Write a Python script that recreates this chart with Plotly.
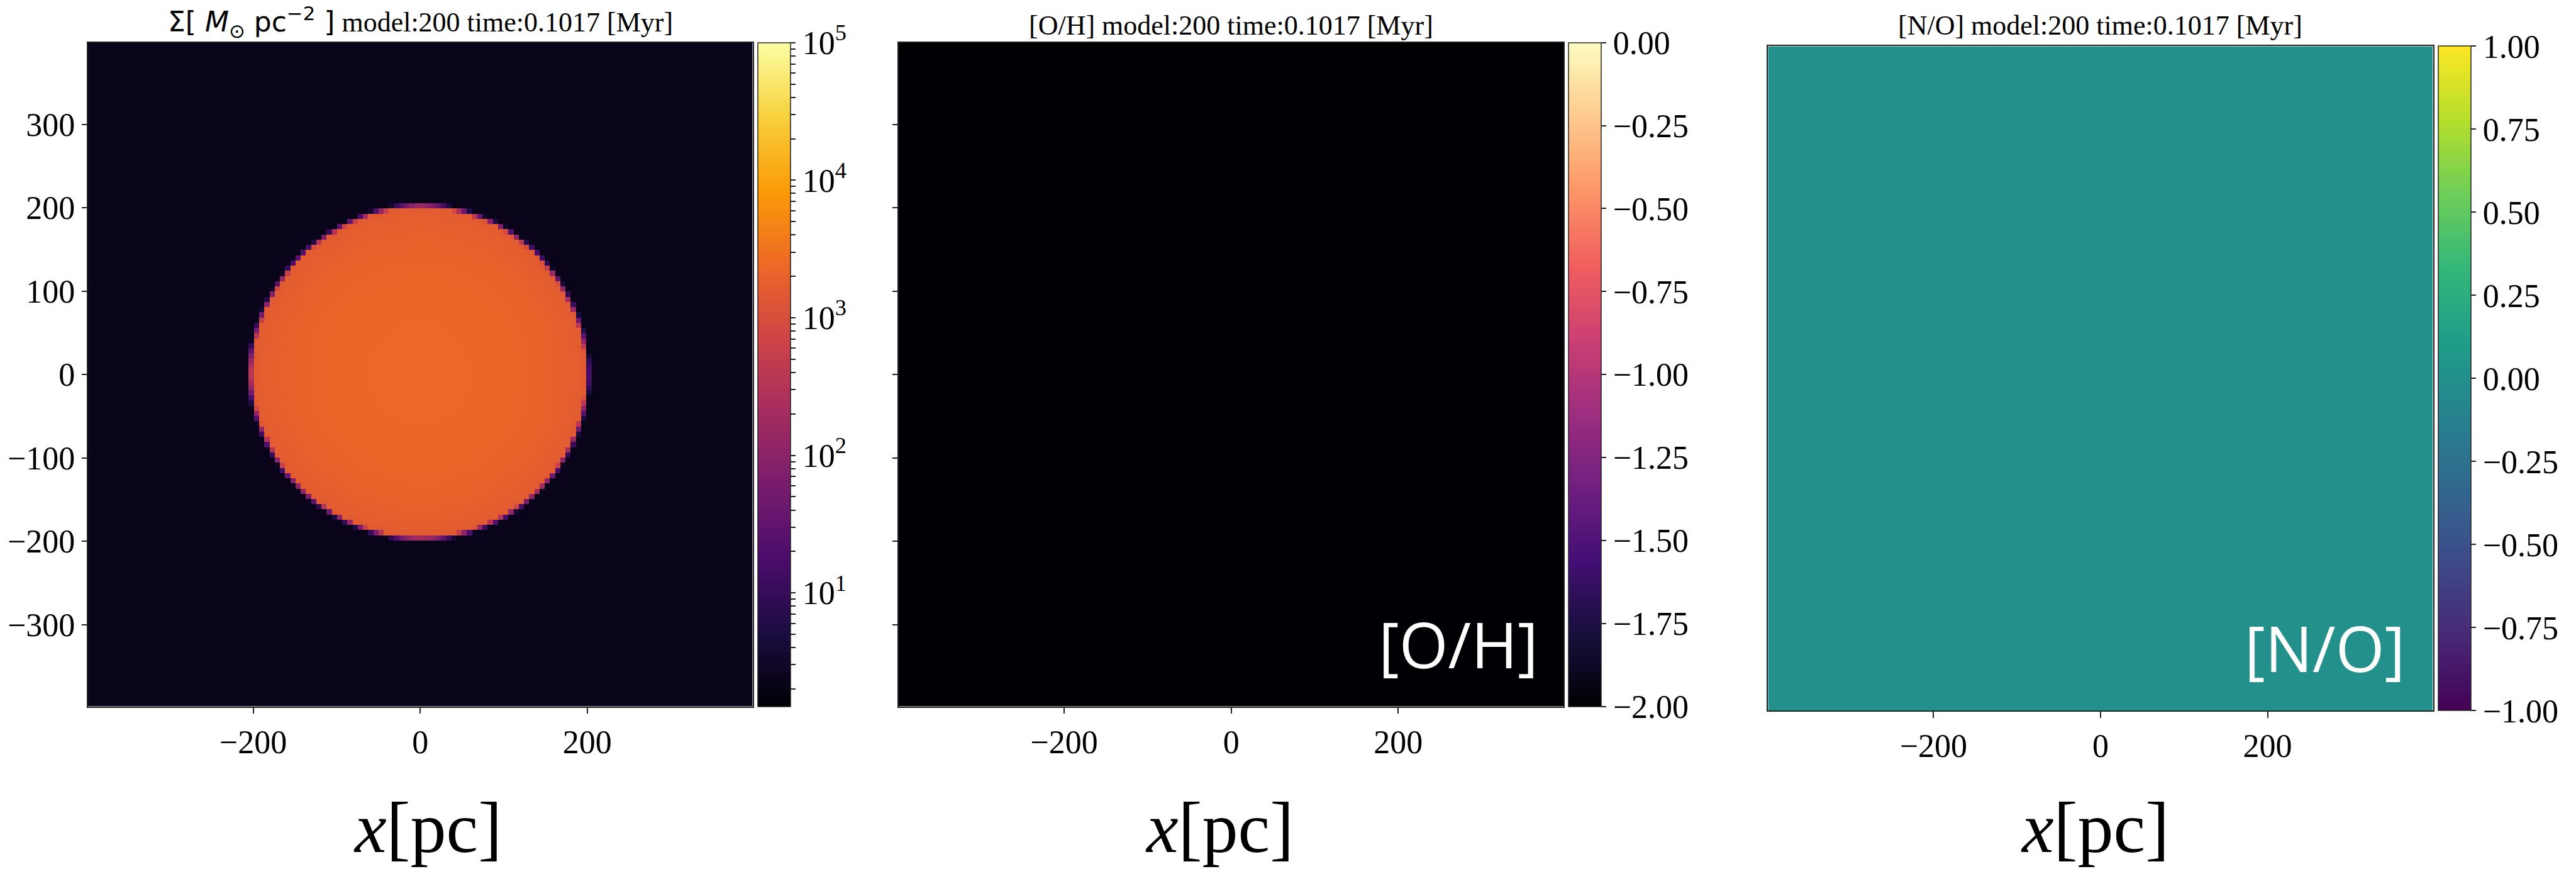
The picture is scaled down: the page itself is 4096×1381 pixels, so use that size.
import numpy as np
import plotly.graph_objects as go

# ---------------- snapshot values ----------------
model_number = 200
time_myr = "0.1017"

n_cells = 128            # cells per side of the projected map
half_width_pc = 398.0    # map spans -398 .. 398 pc on both axes

# gas surface density: outline of the disk (radius vs. position angle)
edge_angle_deg = [0, 30, 60, 90, 120, 150, 180, 210, 240, 270, 300, 330]
edge_radius_pc = [201, 200, 202, 203, 201, 202, 204, 200, 197, 197, 198, 200]
# radial profile inside the disk, log10(Sigma / Msun pc^-2) vs. r / r_edge
profile_r_frac = [0.0, 0.3, 0.6, 0.8, 0.95, 1.0]
profile_log_sigma = [3.38, 3.37, 3.34, 3.29, 3.22, 3.17]
ambient_log_sigma = 0.37

oh_level = -2.0   # [O/H] everywhere in the box
no_level = 0.0    # [N/O] everywhere in the box

sigma_log_range = [0.174, 5.0]
oh_range = [-2.0, 0.0]
no_range = [-1.0, 1.0]

x_tick_vals = [-200, 0, 200]
y_tick_vals = [-300, -200, -100, 0, 100, 200, 300]
sigma_tick_exp = [1, 2, 3, 4, 5]
oh_tick_vals = [0.0, -0.25, -0.5, -0.75, -1.0, -1.25, -1.5, -1.75, -2.0]
no_tick_vals = [1.0, 0.75, 0.5, 0.25, 0.0, -0.25, -0.5, -0.75, -1.0]

panel_titles = [
    '<span style="font-family:\'DejaVu Sans\'">Σ[ <i>M</i><sub>⊙</sub> pc<sup>−2</sup> ]</span>'
    f' model:{model_number} time:{time_myr} [Myr]',
    f'[O/H] model:{model_number} time:{time_myr} [Myr]',
    f'[N/O] model:{model_number} time:{time_myr} [Myr]',
]
panel_tags = ['', '[O/H]', '[N/O]']
x_label = '<i>x</i>[pc]'

# ---------------- build the maps ----------------
cell = 2 * half_width_pc / n_cells
centers = np.linspace(-half_width_pc + cell / 2, half_width_pc - cell / 2, n_cells)
X, Y = np.meshgrid(centers, centers)
R = np.hypot(X, Y)
theta = np.degrees(np.arctan2(Y, X)) % 360
edge = np.interp(theta, edge_angle_deg + [360], edge_radius_pc + [edge_radius_pc[0]])
disk_log = np.interp(R / edge, profile_r_frac, profile_log_sigma)
cover = np.clip((edge - R) / cell + 0.5, 0.0, 1.0)
sigma_map = ambient_log_sigma + (disk_log - ambient_log_sigma) * cover
oh_map = np.full((n_cells, n_cells), oh_level)
no_map = np.full((n_cells, n_cells), no_level)

# ---------------- colours ----------------
inferno = ['#000004', '#1b0c41', '#4a0c6b', '#781c6d', '#a52c60',
           '#cf4446', '#ed6925', '#fb9b06', '#f7d13d', '#fcffa4']
magma = ['#000004', '#180f3d', '#440f76', '#721f81', '#9e2f7f',
         '#cd4071', '#f1605d', '#fd9668', '#feca8d', '#fcfdbf']
viridis = ['#440154', '#482878', '#3e4989', '#31688e', '#26828e',
           '#1f9e89', '#35b779', '#6ece58', '#b5de2b', '#fde725']


def scale(colors):
    n = len(colors) - 1
    return [[i / n, c] for i, c in enumerate(colors)]


# ---------------- layout in pixels ----------------
W, H = 4096, 1381
SERIF = 'Liberation Serif'
panels = [  # heatmap box (left, right, top, bottom) and colourbar left edge
    dict(l=139.5, r=1196.8, t=67.7, b=1122.6, cb=1204.9),
    dict(l=1429.0, r=2486.3, t=67.7, b=1122.6, cb=2494.4),
    dict(l=2811.3, r=3868.6, t=73.4, b=1129.0, cb=3876.7),
]
CB_W = 52


def px(x):
    return x / W


def py(y):
    return 1 - y / H


def fmt(v):
    return f'{v:.2f}'.replace('-', '−')


minor_log = [np.log10(m * 10.0 ** k) for k in range(0, 5) for m in range(2, 10)]
minor_log = [v for v in minor_log if sigma_log_range[0] <= v <= sigma_log_range[1]]
sigma_cb_vals = sigma_tick_exp + minor_log
sigma_cb_text = [f'10<sup>{k}</sup>' for k in sigma_tick_exp] + [''] * len(minor_log)

maps = [
    (sigma_map, inferno, sigma_log_range, sigma_cb_vals, sigma_cb_text),
    (oh_map, magma, oh_range, oh_tick_vals, [fmt(v) for v in oh_tick_vals]),
    (no_map, viridis, no_range, no_tick_vals, [fmt(v) for v in no_tick_vals]),
]

fig = go.Figure()
for i, (z, cs, zr, tv, tt) in enumerate(maps):
    p = panels[i]
    sfx = '' if i == 0 else str(i + 1)
    fig.add_trace(go.Heatmap(
        x=centers, y=centers, z=z, colorscale=scale(cs), zmin=zr[0], zmax=zr[1],
        xaxis='x' + sfx, yaxis='y' + sfx, hoverinfo='skip',
        colorbar=dict(
            x=px(p['cb']), xanchor='left', xpad=0, xref='paper',
            y=py(p['t']), yanchor='top', ypad=0, yref='paper',
            len=p['b'] - p['t'], lenmode='pixels', thickness=CB_W,
            thicknessmode='pixels', outlinewidth=1.5, outlinecolor='#222',
            tickmode='array', tickvals=tv, ticktext=tt, ticks='outside',
            ticklen=8, tickwidth=1.5, tickcolor='#222',
            tickfont=dict(family=SERIF, size=52, color='black'),
        ),
    ))
    ax = dict(
        domain=[px(p['l']), px(p['r'])], range=[-half_width_pc, half_width_pc],
        showgrid=False, zeroline=False, showline=True, mirror=True,
        linecolor='#222', linewidth=1.5,
    )
    fig.layout['xaxis' + sfx] = dict(
        ax, anchor='y' + sfx, tickmode='array', tickvals=x_tick_vals,
        ticks='outside', ticklen=10, tickwidth=1.5, tickcolor='#222',
        tickfont=dict(family=SERIF, size=52, color='black'),
    )
    fig.layout['yaxis' + sfx] = dict(
        ax, domain=[py(p['b']), py(p['t'])], anchor='x' + sfx,
        tickmode='array', tickvals=y_tick_vals,
        ticks='outside' if i < 2 else '', ticklen=8, tickwidth=1.5,
        tickcolor='#222', showticklabels=(i == 0),
        tickfont=dict(family=SERIF, size=52, color='black'),
    )

annotations = []
title_base = [50, 55, 55]
tag_shift = [0, 38, 43]
for i, p in enumerate(panels):
    cx = (p['l'] + p['r']) / 2
    annotations.append(dict(
        text=panel_titles[i], x=px(cx), y=py(title_base[i] - 15), xref='paper', yref='paper',
        xanchor='center', yanchor='middle', showarrow=False,
        font=dict(family=SERIF, size=44, color='black'),
    ))
    annotations.append(dict(
        text=x_label, x=px(cx + [12, -19, -9][i]), y=0, xref='paper', yref='paper',
        xanchor='center', yanchor='bottom', showarrow=False,
        font=dict(family=SERIF, size=114, color='black'),
    ))
    if panel_tags[i]:
        annotations.append(dict(
            text=panel_tags[i], x=px(p['r'] - tag_shift[i]), y=py(p['b'] - 30),
            xref='paper', yref='paper', xanchor='right', yanchor='bottom',
            showarrow=False, font=dict(family='Open Sans', size=100, color='white'),
        ))

fig.update_layout(
    width=W, height=H, margin=dict(l=0, r=0, t=0, b=0),
    paper_bgcolor='white', plot_bgcolor='white', showlegend=False,
    annotations=annotations,
)

fig.write_html('out.html')
